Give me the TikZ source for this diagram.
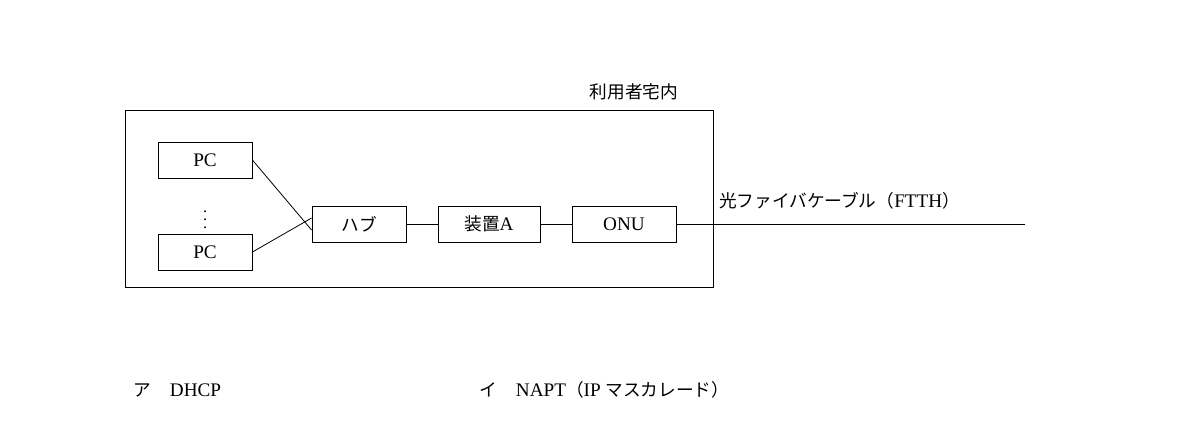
\documentclass[tikz,border=0pt]{standalone}
\usepackage{fontspec}
\setmainfont{Liberation Serif}
\newfontfamily\jpfont{Noto Sans CJK JP}[Scale=0.92]
\newcommand{\jp}[1]{{\jpfont #1}}
\usetikzlibrary{positioning}

\tikzset{
	box/.style={draw, minimum height=18, inner sep=0pt},
}

\begin{document}
\begin{tikzpicture}[x=0.5pt,y=-0.5pt,font=\fontsize{9.6}{11}\selectfont]
	\useasboundingbox (0,0) rectangle (1180,420);
	% premises
	\draw (125,110) rectangle (713,287);
	\node (home) at (634,92) {\jp{利用者宅内}};
	% devices
	\node[box, minimum width=47] (pc1) at (205,160) {PC};
	\node[inner sep=0pt, font=\fontsize{8}{9}\selectfont] (dots) at (205,214) {$\vdots$};
	\node[box, minimum width=47] (pc2) at (205,252) {PC};
	\node[box, minimum width=47] (hub) at (359,224) {\jp{ハブ}};
	\node[box, minimum width=51] (devA) at (489,224) {\jp{装置}A};
	\node[box, minimum width=52] (onu) at (624,224) {ONU};
	\coordinate (fend) at (1025,224);
	% links
	\draw (pc1.east) -- ([yshift=-3]hub.west);
	\draw (pc2.east) -- ([yshift=3]hub.west);
	\draw (hub) -- (devA);
	\draw (devA) -- (onu);
	\draw (onu) -- (fend);
	\node[anchor=west] (fiber) at (712,201) {\jp{光ファイバケーブル（}FTTH\jp{）}};
	% choices
	\node[anchor=west] (optA) at (126,390) {\jp{ア}\hspace{1em}DHCP};
	\node[anchor=west] (optB) at (472,390) {\jp{イ}\hspace{1em}NAPT\jp{（}IP \jp{マスカレード）}};
\end{tikzpicture}
\end{document}
